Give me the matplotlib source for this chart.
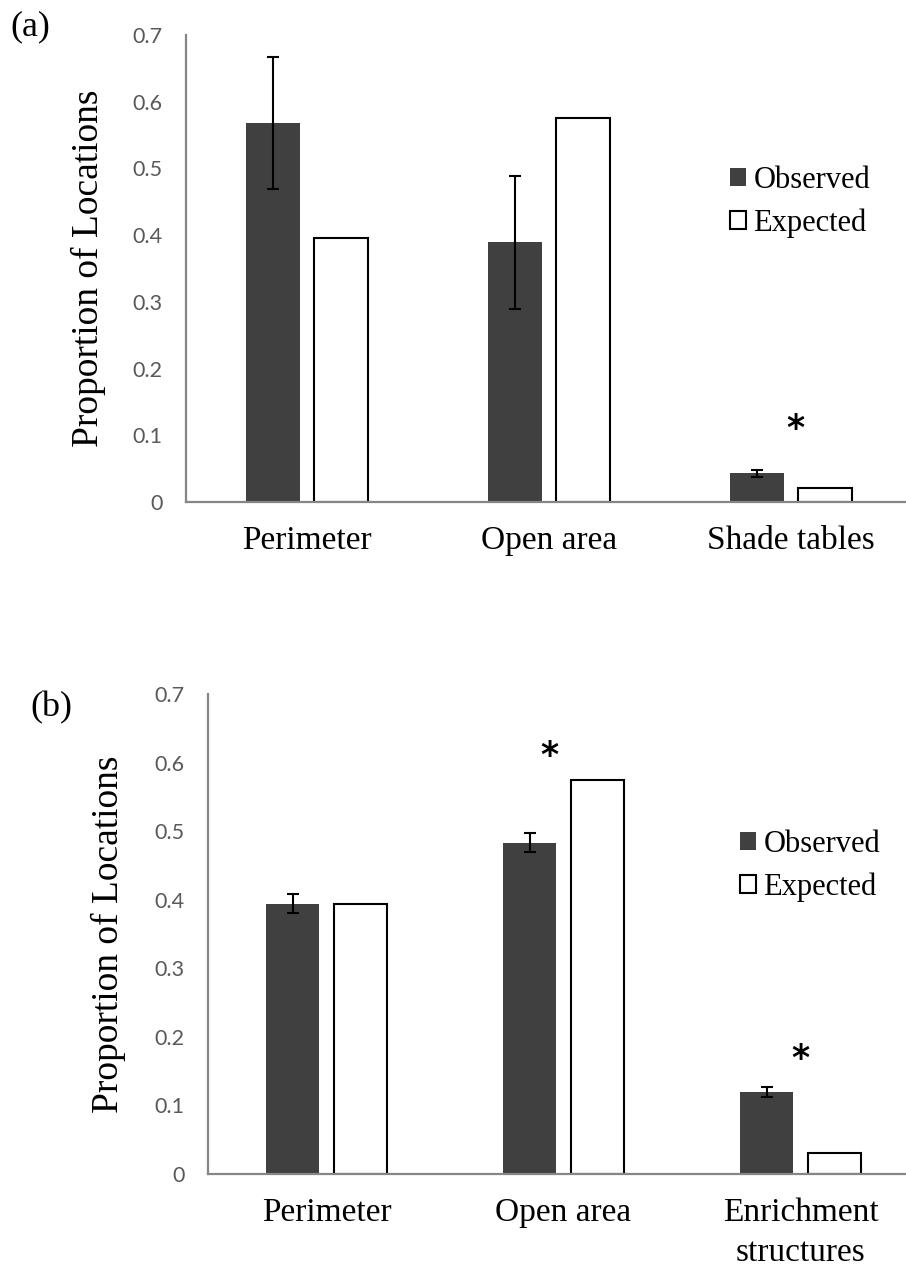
import numpy as np
import matplotlib
matplotlib.use("Agg")
import matplotlib.pyplot as plt

# Panel (a)
cats_a = ["Perimeter", "Open area", "Shade tables"]
obs_a = [0.568, 0.389, 0.043]
err_a = [0.099, 0.099, 0.005]
exp_a = [0.395, 0.575, 0.021]
stars_a = [(2.02, 0.11)]

# Panel (b)
cats_b = ["Perimeter", "Open area", "Enrichment\nstructures"]
obs_b = [0.394, 0.483, 0.120]
err_b = [0.014, 0.014, 0.007]
exp_b = [0.394, 0.575, 0.030]
stars_b = [(0.94, 0.61), (2.0, 0.168)]

yticks = [0, 0.1, 0.2, 0.3, 0.4, 0.5, 0.6, 0.7]
ytick_labels = ["0", "0.1", "0.2", "0.3", "0.4", "0.5", "0.6", "0.7"]

SERIF = "Liberation Serif"
OBS_COLOR = "#404040"
SPINE = "#868686"

fig = plt.figure(figsize=(9.06, 12.7), dpi=100)

W, H = 906, 1270


def draw_panel(rect, cats, obs, err, exp, stars, leg_anchor, label_x):
    ax = fig.add_axes(rect)
    x = np.arange(len(cats))
    w = 0.223
    off = 0.142
    ax.bar(x - off, obs, w, color=OBS_COLOR, label="Observed",
           yerr=err, error_kw=dict(ecolor="black", elinewidth=1.5,
                                   capsize=4.5, capthick=1.5))
    ax.bar(x + off, exp, w, color="white", edgecolor="black",
           linewidth=1.5, label="Expected")
    for sx, sy in stars:
        ax.text(sx, sy, "*", ha="center", va="center", fontsize=25,
                fontweight="bold", family="DejaVu Sans")
    ax.set_xlim(-0.5, 2.5)
    ax.set_ylim(0, 0.7)
    ax.set_yticks(yticks)
    ax.set_yticklabels(ytick_labels, family="Lato", fontsize=15.5,
                       color="#595959")
    ax.set_xticks(x)
    ax.set_xticklabels(cats, family=SERIF, fontsize=24, linespacing=1.4)
    ax.tick_params(axis="y", length=0, pad=17)
    ax.tick_params(axis="x", length=0, pad=17)
    for s in ["top", "right"]:
        ax.spines[s].set_visible(False)
    for s in ["left", "bottom"]:
        ax.spines[s].set_color(SPINE)
        ax.spines[s].set_linewidth(1.6)
    ax.set_ylabel("Proportion of Locations", family=SERIF, fontsize=27)
    ax.yaxis.set_label_coords(label_x, 0.5)
    ax.legend(loc="upper left", bbox_to_anchor=leg_anchor, frameon=False,
              prop=dict(family=SERIF, size=22), handlelength=0.52,
              handleheight=0.52, handletextpad=0.25, labelspacing=0.45,
              borderpad=0, borderaxespad=0)
    return ax


# panel (a): axis x 186 px, y 35..502 px, category spacing 242 px
ax_a = draw_panel([186 / W, 1 - 502 / H, 726 / W, 467 / H], cats_a, obs_a,
                  err_a, exp_a, stars_a, (0.749, 0.72), -0.11)
# panel (b): axis x 208 px, y 694..1174 px, category spacing 237 px
ax_b = draw_panel([208 / W, 1 - 1174 / H, 711 / W, 480 / H], cats_b, obs_b,
                  err_b, exp_b, stars_b, (0.748, 0.717), -0.115)

fig.text(10 / W, 1 - 27 / H, "(a)", family=SERIF, fontsize=26,
         ha="left", va="center")
fig.text(30 / W, 1 - 708 / H, "(b)", family=SERIF, fontsize=26,
         ha="left", va="center")

fig.savefig("out.png", dpi=100)
